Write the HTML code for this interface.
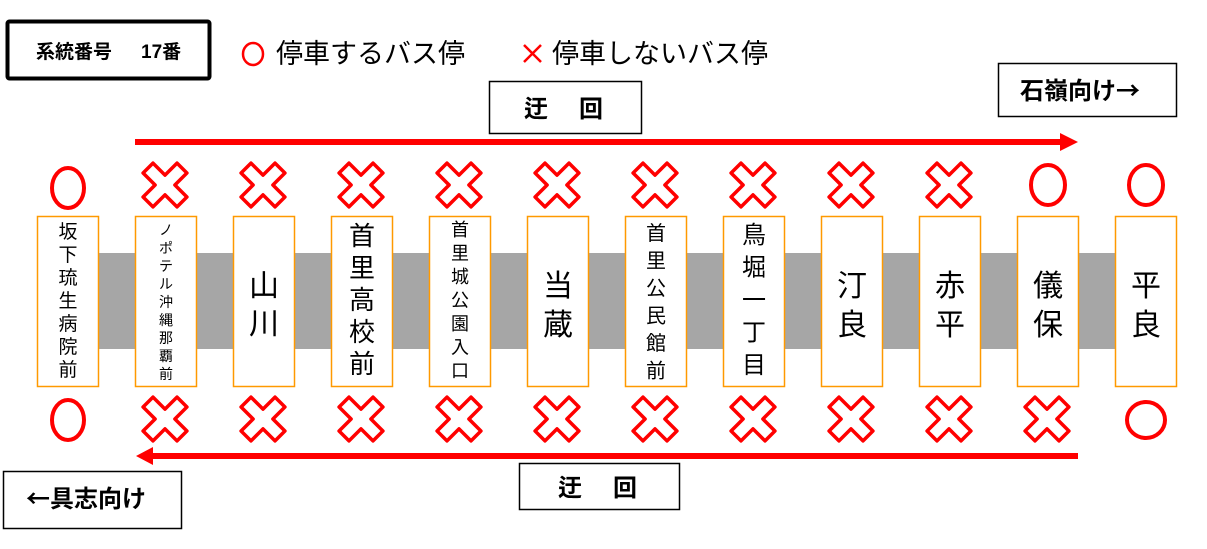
<!DOCTYPE html>
<html><head><meta charset="utf-8"><style>
html,body{margin:0;padding:0;background:#fff;}
svg{display:block;font-family:"Liberation Sans","Noto Sans CJK JP",sans-serif;}
.j{font-family:"Noto Sans CJK JP",sans-serif;}
</style></head><body>
<svg width="1207" height="549" viewBox="0 0 1207 549" xmlns="http://www.w3.org/2000/svg">
<defs>
<path id="xm" d="M-7,-24 H7 V-7 H24 V7 H7 V24 H-7 V7 H-24 V-7 H-7Z" fill="none" stroke="#f00" stroke-width="3.5" stroke-linejoin="round"/>
</defs>
<rect x="7.5" y="21.5" width="202" height="57" fill="#fff" stroke="#000" stroke-width="4" rx="2"/>
<text x="36" y="58" font-size="19" font-weight="bold">系統番号</text>
<text x="141" y="58" font-size="19" font-weight="bold">17番</text>
<ellipse cx="253" cy="54" rx="10" ry="11" fill="none" stroke="#f00" stroke-width="2.5"/>
<text x="276" y="63" font-size="27">停車するバス停</text>
<path d="M524,45 L541,62 M541,45 L524,62" stroke="#f00" stroke-width="2.5"/>
<text x="552" y="63" font-size="27">停車しないバス停</text>
<rect x="489.5" y="81.5" width="152" height="52" fill="#fff" stroke="#000" stroke-width="1.5"/>
<text x="524" y="117" font-size="24" font-weight="bold">迂</text>
<text x="579" y="117" font-size="24" font-weight="bold">回</text>
<rect x="519.5" y="463.5" width="160" height="46" fill="#fff" stroke="#000" stroke-width="1.5"/>
<text x="558" y="496" font-size="24" font-weight="bold">迂</text>
<text x="613" y="496" font-size="24" font-weight="bold">回</text>
<rect x="998.5" y="63.5" width="178" height="53" fill="#fff" stroke="#000" stroke-width="1.5"/>
<text x="1020" y="99" font-size="24" font-weight="bold" class="j">石嶺向け→</text>
<rect x="3.5" y="471.5" width="178" height="57" fill="#fff" stroke="#000" stroke-width="1.5"/>
<text x="26" y="507" font-size="24" font-weight="bold" class="j">←具志向け</text>
<rect x="135" y="139" width="928" height="6" fill="#f00"/>
<polygon points="1060,133 1078,142 1060,151" fill="#f00"/>
<rect x="150" y="453" width="928" height="6" fill="#f00"/>
<polygon points="153,447 136,456 153,465" fill="#f00"/>
<rect x="98" y="253" width="1018" height="96" fill="#a6a6a6"/>
<g fill="#fff" stroke="#ff9900" stroke-width="1.5">
<rect x="37.5" y="216.5" width="61" height="170"/>
<rect x="135.5" y="216.5" width="61" height="170"/>
<rect x="233.5" y="216.5" width="61" height="170"/>
<rect x="331.5" y="216.5" width="61" height="170"/>
<rect x="429.5" y="216.5" width="61" height="170"/>
<rect x="527.5" y="216.5" width="61" height="170"/>
<rect x="625.5" y="216.5" width="61" height="170"/>
<rect x="723.5" y="216.5" width="61" height="170"/>
<rect x="821.5" y="216.5" width="61" height="170"/>
<rect x="919.5" y="216.5" width="61" height="170"/>
<rect x="1017.5" y="216.5" width="61" height="170"/>
<rect x="1115.5" y="216.5" width="61" height="170"/>
</g>
<g text-anchor="middle">
<g font-size="19">
<text x="68" y="238">坂</text><text x="68" y="261">下</text><text x="68" y="284">琉</text><text x="68" y="307">生</text><text x="68" y="330">病</text><text x="68" y="353">院</text><text x="68" y="376">前</text>
</g>
<g font-size="14">
<text x="166" y="235">ノ</text><text x="166" y="253">ポ</text><text x="166" y="271">テ</text><text x="166" y="289">ル</text><text x="166" y="307">沖</text><text x="166" y="325">縄</text><text x="166" y="343">那</text><text x="166" y="361">覇</text><text x="166" y="379">前</text>
</g>
<g font-size="30"><text x="264" y="296">山</text><text x="264" y="334">川</text></g>
<g font-size="26">
<text x="362" y="245">首</text><text x="362" y="277">里</text><text x="362" y="309">高</text><text x="362" y="341">校</text><text x="362" y="373">前</text>
</g>
<g font-size="18">
<text x="460" y="236">首</text><text x="460" y="259.5">里</text><text x="460" y="283">城</text><text x="460" y="306.5">公</text><text x="460" y="330">園</text><text x="460" y="353.5">入</text><text x="460" y="377">口</text>
</g>
<g font-size="30"><text x="558" y="296">当</text><text x="558" y="335">蔵</text></g>
<g font-size="20">
<text x="656" y="240">首</text><text x="656" y="267.5">里</text><text x="656" y="295">公</text><text x="656" y="322.5">民</text><text x="656" y="350">館</text><text x="656" y="377.5">前</text>
</g>
<g font-size="24">
<text x="754" y="243">鳥</text><text x="754" y="275.5">堀</text><text x="754" y="308">一</text><text x="754" y="340.5">丁</text><text x="754" y="373">目</text>
</g>
<g font-size="30">
<text x="852" y="296">汀</text><text x="852" y="335">良</text>
<text x="950" y="296">赤</text><text x="950" y="335">平</text>
<text x="1048" y="296">儀</text><text x="1048" y="335">保</text>
<text x="1146" y="296">平</text><text x="1146" y="335">良</text>
</g>
</g>
<g fill="none" stroke="#f00" stroke-width="4">
<ellipse cx="68" cy="188" rx="16" ry="20"/>
<ellipse cx="1048" cy="185" rx="17" ry="20"/>
<ellipse cx="1146" cy="185" rx="17" ry="20"/>
<ellipse cx="68" cy="420" rx="16" ry="20"/>
<ellipse cx="1146" cy="420" rx="19" ry="18"/>
</g>
<g>
<use href="#xm" transform="translate(165,185) rotate(45)"/>
<use href="#xm" transform="translate(263,185) rotate(45)"/>
<use href="#xm" transform="translate(361,185) rotate(45)"/>
<use href="#xm" transform="translate(459,185) rotate(45)"/>
<use href="#xm" transform="translate(557,185) rotate(45)"/>
<use href="#xm" transform="translate(655,185) rotate(45)"/>
<use href="#xm" transform="translate(753,185) rotate(45)"/>
<use href="#xm" transform="translate(851,185) rotate(45)"/>
<use href="#xm" transform="translate(949,185) rotate(45)"/>
<use href="#xm" transform="translate(165,419) rotate(45)"/>
<use href="#xm" transform="translate(263,419) rotate(45)"/>
<use href="#xm" transform="translate(361,419) rotate(45)"/>
<use href="#xm" transform="translate(459,419) rotate(45)"/>
<use href="#xm" transform="translate(557,419) rotate(45)"/>
<use href="#xm" transform="translate(655,419) rotate(45)"/>
<use href="#xm" transform="translate(753,419) rotate(45)"/>
<use href="#xm" transform="translate(851,419) rotate(45)"/>
<use href="#xm" transform="translate(949,419) rotate(45)"/>
<use href="#xm" transform="translate(1047,419) rotate(45)"/>
</g>
</svg>
</body></html>
